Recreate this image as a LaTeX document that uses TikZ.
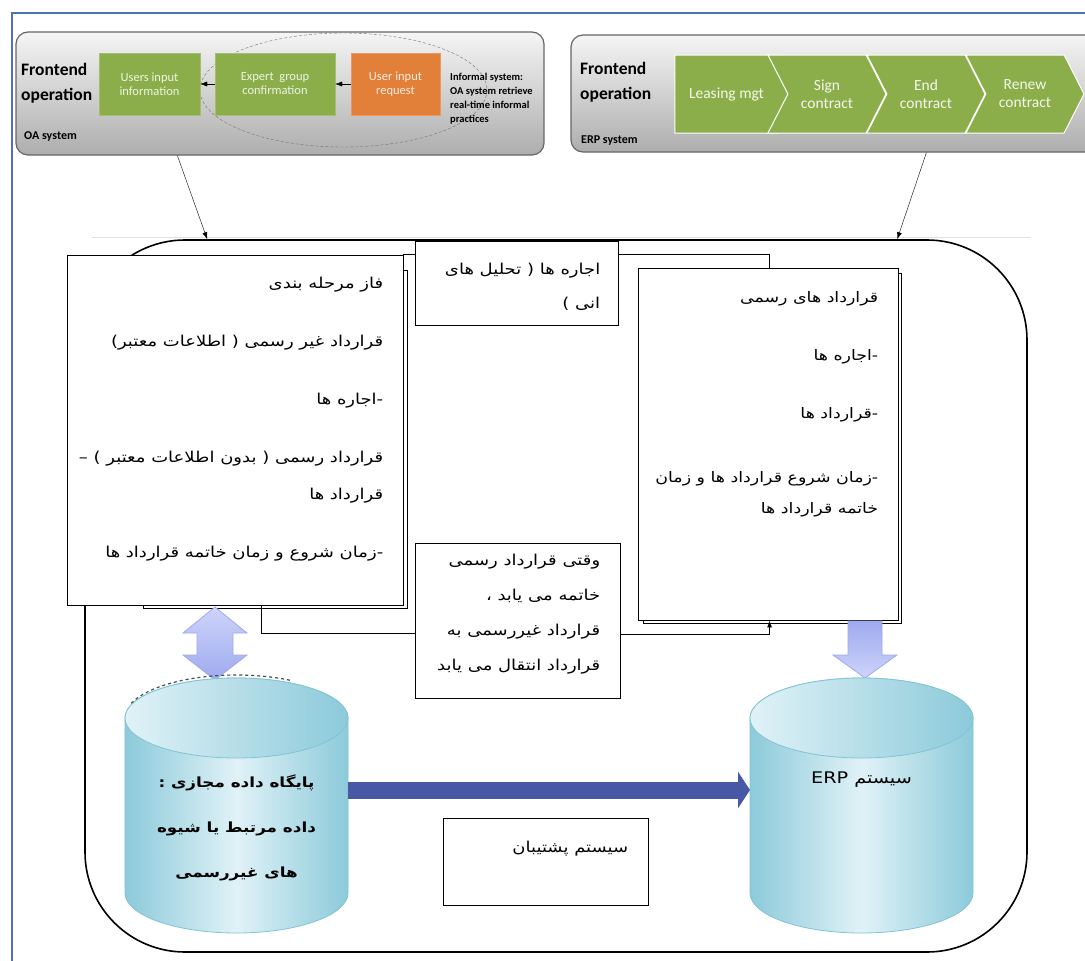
\documentclass[tikz,border=0pt]{standalone}
\usepackage{fontspec}
\setmainfont{Carlito}
\newfontfamily\farsi[Script=Arabic, FakeStretch=1.2]{DejaVu Sans}
\TeXXeTstate=1
\usepackage{tikz}
\usetikzlibrary{positioning,calc,shapes.symbols,arrows.meta}
\definecolor{frameblue}{RGB}{79,114,190}
\definecolor{leafgreen}{RGB}{140,174,74}
\definecolor{leaforange}{RGB}{226,128,58}
\definecolor{cyandark}{RGB}{140,202,218}
\definecolor{cyanlight}{RGB}{224,242,247}
\definecolor{cyanedge}{RGB}{128,196,214}
\definecolor{lavender}{RGB}{206,212,250}
\definecolor{lavenderdark}{RGB}{158,170,238}
\definecolor{navyarrow}{RGB}{72,88,164}
\newcommand{\fa}[1]{\beginR #1\endR}
\newcommand{\dbcylinder}{%
  \shade[left color=cyandark, right color=cyandark, middle color=cyanlight, draw=cyanedge, line width=0.8pt]
    (-111.5,718) -- (-111.5,893) arc[start angle=180, end angle=0, x radius=111.5, y radius=40]
    -- (111.5,718) arc[start angle=0, end angle=-180, x radius=111.5, y radius=40] -- cycle;
  \shade[left color=cyanlight, right color=cyandark, draw=cyanedge, line width=0.8pt]
    (0,718) ellipse [x radius=111.5, y radius=40];}
\tikzstyle{panel} = [draw=black!60, line width=1.2pt, rounded corners=12pt, top color=black!4, bottom color=black!32]
\tikzstyle{greenstep} = [fill=leafgreen, draw=leafgreen!80!white, text=white!85!leafgreen, align=center, minimum height=62pt, inner sep=1pt, font=\fontsize{12.5}{14}\selectfont]
\tikzstyle{chev} = [signal, signal to=east, signal pointer angle=126, fill=leafgreen, draw=white, line width=1pt, text=white!90!leafgreen, align=center, minimum height=78pt, inner sep=1pt, font=\fontsize{15.5}{18}\selectfont]
\tikzstyle{paneltitle} = [align=left, inner sep=0pt, font=\bfseries\fontsize{17.5}{25}\selectfont]
\tikzstyle{panelsub} = [inner sep=0pt, font=\bfseries\fontsize{12}{13}\selectfont]
\tikzstyle{infotext} = [align=left, inner sep=0pt, font=\bfseries\fontsize{10.5}{14}\selectfont]
\tikzstyle{txtbox} = [draw, line width=0.9pt, fill=white]
\tikzstyle{fatext} = [align=right, inner sep=0pt, font=\farsi\fontsize{15}{37}\selectfont]

\begin{document}
\begin{tikzpicture}[x=1pt, y=-1pt, >={Latex[length=7pt,width=5pt]}]
  \useasboundingbox (0,0) rectangle (1085,961);
  \fill[white] (0,0) rectangle (1085,961);
  \draw[frameblue, line width=1.6pt] (12,961) -- (12,13) -- (1085,13);
  \draw[black!12] (92,237) -- (1031,237);
  \node[draw, line width=1.6pt, rounded corners=100pt, minimum width=942pt, minimum height=712pt] (frame) at (556,596) {};

  % OA system
  \node[panel, minimum width=528pt, minimum height=123pt] (oa) at (280,93.5) {};
  \draw[black!55, densely dashed] (343.5,90) ellipse [x radius=143.5, y radius=57];
  \node[greenstep, minimum width=101pt] (usersin) at (149.5,84) {Users input\\information};
  \node[greenstep, minimum width=120pt] (expert) at (275,84) {Expert\ \ group\\confirmation};
  \node[greenstep, fill=leaforange, draw=leaforange!80!white, text=white!85!leaforange, minimum width=89pt] (request) at (395.5,84) {User input\\request};
  \node[infotext, anchor=west] (informal) at (450,99) {Informal system:\\OA system retrieve\\real-time informal\\practices};
  \node[paneltitle, anchor=west] (oatitle) at (21,83) {Frontend\\operation};
  \node[panelsub, anchor=west] (oasub) at (24,137) {OA system};
  \draw[->] (request) -- (expert);
  \draw[->] (expert) -- (usersin);

  % ERP system
  \node[panel, minimum width=540pt, minimum height=117pt] (erp) at (841,93.5) {};
  \node[paneltitle, anchor=west] (erptitle) at (580,82) {Frontend\\operation};
  \node[panelsub, anchor=west] (erpsub) at (581,141) {ERP system};
  \node[chev, minimum width=123pt] (lease) at (726.5,94) {Leasing mgt};
  \node[chev, signal from=west, minimum width=118pt] (sign) at (827,94) {Sign\\contract};
  \node[chev, signal from=west, minimum width=118pt] (endc) at (926,94) {End\\contract};
  \node[chev, signal from=west, minimum width=118pt] (renew) at (1025,94) {Renew\\contract};

  \draw[->] ($(oa.south west)+(162,0)$) -- ($(frame.north west)+(123,0)$);
  \draw[->] ($(erp.south west)+(356,0)$) -- ($(frame.north west)+(813,0)$);

  % boxes
  \draw[line width=0.9pt] (143,270) rectangle (407,608);
  \node[txtbox, minimum width=336pt, minimum height=350pt] (lbox) at (235,430) {};
  \draw[line width=0.9pt] (643,273) rectangle (901,623);
  \node[txtbox, minimum width=260pt, minimum height=352pt] (rbox) at (768,444) {};
  \draw[line width=0.9pt] (lbox.north east) -| ($(rbox.north west)+(132,0)$);
  \draw[line width=0.9pt] ($(lbox.south west)+(195,0)$) |- ($(lbox.south west)+(348,28)$);
  \node[txtbox, minimum width=203pt, minimum height=84pt] (mtop) at (516.5,283) {};
  \node[txtbox, minimum width=205pt, minimum height=155pt] (mbox) at (517.5,620.5) {};
  \draw[line width=0.9pt, ->] ($(mbox.east)+(0,13.5)$) -| ($(rbox.south west)+(132,0)$);
  \node[txtbox, minimum width=205pt, minimum height=87pt] (bbox) at (545.5,861.5) {};

  \node[fatext, anchor=north east] (ltext) at ($(lbox.north east)+(-20,22)$) {%
    \fa{فاز مرحله بندی}\\[21pt]
    \fa{قرارداد غیر رسمی ( اطلاعات معتبر)}\\[21pt]
    \fa{-اجاره ها}\\[21pt]
    \fa{قرارداد رسمی ( بدون اطلاعات معتبر ) –}\\
    \fa{قرارداد ها}\\[21pt]
    \fa{-زمان شروع و زمان خاتمه قرارداد ها}};
  \node[fatext, anchor=north east, font=\farsi\fontsize{14.5}{31}\selectfont] (rtext) at ($(rbox.north east)+(-20,24)$) {%
    \fa{قرارداد های رسمی}\\[27pt]
    \fa{-اجاره ها}\\[27pt]
    \fa{-قرارداد ها}\\[33pt]
    \fa{-زمان شروع قرارداد ها و زمان}\\
    \fa{خاتمه قرارداد ها}};
  \node[fatext, anchor=north east, font=\farsi\fontsize{15}{34}\selectfont] (mtoptext) at ($(mtop.north east)+(-18,22)$) {%
    \fa{اجاره ها ( تحلیل های}\\
    \fa{انی )}};
  \node[fatext, anchor=north east, font=\farsi\fontsize{15}{35}\selectfont] (mtext) at ($(mbox.north east)+(-20,11)$) {%
    \fa{وقتی قرارداد رسمی}\\
    \fa{خاتمه می یابد ،}\\
    \fa{قرارداد غیررسمی به}\\
    \fa{قرارداد انتقال می یابد}};
  \node[fatext, anchor=north east] (btext) at ($(bbox.north east)+(-20,23)$) {\fa{سیستم پشتیبان}};

  % databases
  \shade[top color=lavender, bottom color=lavenderdark, draw=lavenderdark, line width=0.8pt]
    (215,607) -- (247,633) -- (233,633) -- (233,655) -- (247,655) -- (215,680)
    -- (183,655) -- (197,655) -- (197,633) -- (183,633) -- cycle;
  \shade[top color=lavenderdark, bottom color=lavender, draw=lavenderdark, line width=0.8pt]
    (848,621) -- (882,621) -- (882,655) -- (897,655) -- (865,678) -- (833,655) -- (848,655) -- cycle;
  \begin{scope}[shift={(236.5,0)}]
    \dbcylinder
    \draw[black!70, dashed, line width=1.2pt] (0,718) ++(200:112 and 43) arc[start angle=200, end angle=300, x radius=112, y radius=43];
  \end{scope}
  \begin{scope}[shift={(861.5,0)}]
    \dbcylinder
  \end{scope}
  \node[fatext, align=center, anchor=center, font=\farsi\bfseries\fontsize{14}{45}\selectfont] (vdb) at (236.5,828) {%
    \fa{پایگاه داده مجازی :}\\
    \fa{داده مرتبط یا شیوه}\\
    \fa{های غیررسمی}};
  \node[fatext, anchor=center, font=\farsi\fontsize{16}{18}\selectfont] (erpdb) at (861.5,780) {\fa{سیستم \beginL ERP\endL}};
  \coordinate (vdbside) at (348,790);
  \coordinate (erpside) at (750,790);
  \draw[navyarrow, line width=17pt, -{Triangle[length=12pt,width=36pt]}] (vdbside) -- (erpside);
\end{tikzpicture}
\end{document}
